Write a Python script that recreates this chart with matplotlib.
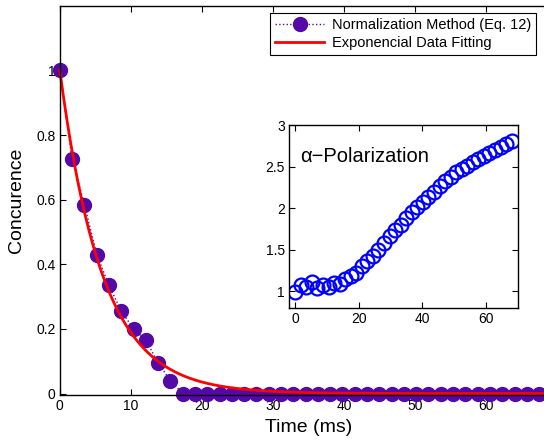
import numpy as np
import matplotlib.pyplot as plt

plt.rcParams['font.family'] = ['Liberation Sans', 'DejaVu Sans']

# concurrence data (normalization method)
t = np.arange(40) * 1.73
conc = [1.0, 0.725, 0.585, 0.43, 0.335, 0.255, 0.20, 0.165, 0.095, 0.04] + [0.0] * 30

# exponential fit
tau = 6.0
t_fit = np.linspace(0, 68, 400)
c_fit = np.exp(-t_fit / tau)

# inset: alpha polarization
pol = [0.99, 1.08, 1.05, 1.11, 1.04, 1.08, 1.05, 1.10, 1.09, 1.15,
       1.18, 1.22, 1.30, 1.36, 1.42, 1.50, 1.58, 1.66, 1.74, 1.80,
       1.88, 1.96, 2.02, 2.08, 2.14, 2.20, 2.27, 2.33, 2.37, 2.43,
       2.47, 2.51, 2.55, 2.59, 2.63, 2.66, 2.70, 2.74, 2.77, 2.81]

purple = '#5508a8'

fig = plt.figure(figsize=(5.44, 4.45), dpi=100)
ax = fig.add_axes([0.110, 0.112, 0.914, 0.875])
ax.plot(t, conc, ':', color=purple, marker='o', markersize=10, lw=1,
        label='Normalization Method (Eq. 12)', clip_on=False)
ax.plot(t_fit, c_fit, '-', color='red', lw=2, label='Exponencial Data Fitting',
        clip_on=False)
ax.set_xlim(0, 70)
ax.set_ylim(-0.005, 1.2)
ax.set_xticks(range(0, 70, 10))
ax.set_yticks([0, 0.2, 0.4, 0.6, 0.8, 1])
ax.set_yticklabels(['0', '0.2', '0.4', '0.6', '0.8', '1'])
ax.tick_params(direction='in', top=True, right=True, labelsize=10, length=4, pad=3)
ax.set_xlabel('Time (ms)', fontsize=14, labelpad=4)
ax.set_ylabel('Concurence', fontsize=14, labelpad=8)
for s in ax.spines.values():
    s.set_linewidth(1)

leg = ax.legend(loc='upper right', bbox_to_anchor=(536 / 544, 1 - 13 / 445),
                bbox_transform=fig.transFigure, fontsize=10.5, fancybox=False,
                edgecolor='black', framealpha=1, borderpad=0.35,
                handlelength=3.4, handletextpad=0.5, labelspacing=0.25,
                borderaxespad=0)
leg.get_frame().set_linewidth(0.8)

# inset
ins = fig.add_axes([0.531, 0.308, 0.421, 0.411])
ins.plot(np.arange(40) * 1.745, pol, 'o', mfc='none', mec='blue', mew=1.6,
         markersize=10)
ins.set_xlim(-2, 70)
ins.set_ylim(0.8, 3)
ins.set_xticks([0, 20, 40, 60])
ins.set_yticks([1, 1.5, 2, 2.5, 3])
ins.set_yticklabels(['1', '1.5', '2', '2.5', '3'])
ins.tick_params(direction='in', top=True, right=True, labelsize=10, length=4, pad=3)
ins.text(0.05, 0.8, 'α−Polarization', transform=ins.transAxes, fontsize=14.5)
for s in ins.spines.values():
    s.set_linewidth(1)

fig.savefig('out.png', dpi=100)
